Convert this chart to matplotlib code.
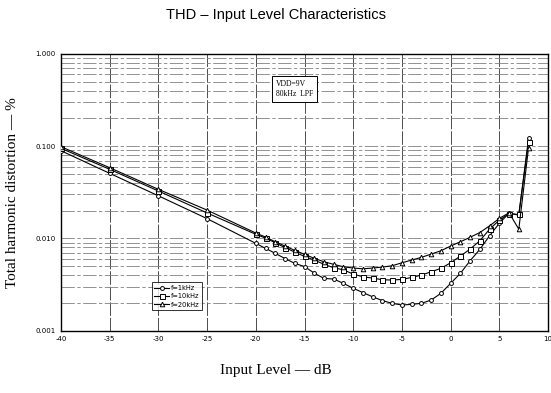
import matplotlib
matplotlib.use("Agg")
import matplotlib.pyplot as plt
import numpy as np

# input level, dB
level = [-40, -35, -30, -25, -20, -19, -18, -17, -16, -15, -14, -13, -12, -11,
         -10, -9, -8, -7, -6, -5, -4, -3, -2, -1, 0, 1, 2, 3, 4, 5, 6, 7, 8]

# THD, %
thd_1k = [0.0894, 0.0508, 0.0290, 0.0164, 0.00885, 0.00781, 0.00690, 0.00605,
          0.00537, 0.00496, 0.00421, 0.00369, 0.00363, 0.00326, 0.00288, 0.00259,
          0.00233, 0.00212, 0.00198, 0.00190, 0.00193, 0.00198, 0.00215, 0.00254,
          0.00326, 0.00418, 0.00573, 0.00762, 0.0107, 0.0146, 0.0188, 0.0179, 0.122]
thd_10k = [0.0949, 0.0562, 0.0327, 0.0189, 0.0111, 0.0101, 0.00898, 0.00796,
           0.00712, 0.00639, 0.00583, 0.00525, 0.00481, 0.00457, 0.00411, 0.00384,
           0.00372, 0.00357, 0.00354, 0.00360, 0.00378, 0.00401, 0.00435, 0.00474,
           0.00545, 0.00644, 0.00767, 0.00945, 0.0126, 0.0158, 0.0186, 0.0182, 0.112]
thd_20k = [0.0988, 0.0585, 0.0341, 0.0203, 0.01145, 0.01035, 0.00921, 0.00827,
           0.00743, 0.00674, 0.00609, 0.00559, 0.00524, 0.00493, 0.00478, 0.00469,
           0.00478, 0.00490, 0.00506, 0.00545, 0.00583, 0.00624, 0.00677, 0.00736,
           0.00827, 0.00921, 0.0103, 0.0116, 0.0137, 0.0165, 0.0190, 0.0126, 0.0964]

series_labels = ["f=1kHz", "f=10kHz", "f=20kHz"]
x_ticks = [-40, -35, -30, -25, -20, -15, -10, -5, 0, 5, 10]
y_ticks = [0.001, 0.01, 0.1, 1.0]
y_ticklabels = ["0.001", "0.010", "0.100", "1.000"]

fig = plt.figure(figsize=(5.51, 3.93), dpi=100)
ax = fig.add_axes([0.1107, 0.1585, 0.8839, 0.7041])

ax.set_yscale("log")
ax.set_xlim(-40, 10)
ax.set_ylim(0.001, 1.0)

# grid, the scanned sheet has every minor decade line (broken, faint)
for xv in x_ticks:
    ax.axvline(xv, color="0.3", lw=0.7, ls=(0, (14, 2)), zorder=1)
for dec in [0.001, 0.01, 0.1]:
    for k in range(1, 10):
        ax.axhline(dec * k, color="0.5", lw=0.6, ls=(0, (16, 3, 4, 3)), zorder=1)

ax.plot(level, thd_1k, "-o", color="black", lw=0.8, ms=2.8, mfc="white",
        mew=0.7, label=series_labels[0], zorder=3)
ax.plot(level, thd_10k, "-s", color="black", lw=0.8, ms=3.6, mfc="white",
        mew=0.7, label=series_labels[1], zorder=3)
ax.plot(level, thd_20k, "-^", color="black", lw=0.8, ms=3.3, mfc="white",
        mew=0.7, label=series_labels[2], zorder=3)

ax.set_xticks(x_ticks)
ax.set_xticklabels([str(v) for v in x_ticks])
ax.set_yticks(y_ticks)
ax.set_yticklabels(y_ticklabels)
ax.yaxis.set_minor_locator(matplotlib.ticker.NullLocator())
ax.tick_params(axis="both", length=0, labelsize=5, pad=4)

for sp in ax.spines.values():
    sp.set_linewidth(1.0)

leg = ax.legend(loc="upper left", bbox_to_anchor=(0.186, 0.175), fontsize=4.8,
                frameon=True, fancybox=False, edgecolor="black",
                handlelength=2.2, handletextpad=0.3, borderpad=0.4,
                labelspacing=0.35, borderaxespad=0)
leg.get_frame().set_linewidth(0.7)
leg.set_zorder(5)

ax.text(0.442, 0.905, "VDD=9V\n80kHz  LPF", transform=ax.transAxes,
        fontsize=5.5, family="Liberation Serif", va="top", ha="left",
        linespacing=1.3, zorder=5,
        bbox=dict(boxstyle="square,pad=0.5", fc="white", ec="black", lw=0.7))

fig.text(0.5, 0.962, "THD \u2013 Input Level Characteristics", ha="center",
         va="center", fontsize=10.5, family="Liberation Sans")
fig.text(0.5, 0.058, "Input Level \u2014 dB", ha="center", va="center",
         fontsize=11, family="Liberation Serif")
fig.text(0.022, 0.51, "Total harmonic distortion \u2014 %", ha="center",
         va="center", rotation=90, fontsize=11, family="Liberation Serif")

fig.savefig("out.png", dpi=100)
